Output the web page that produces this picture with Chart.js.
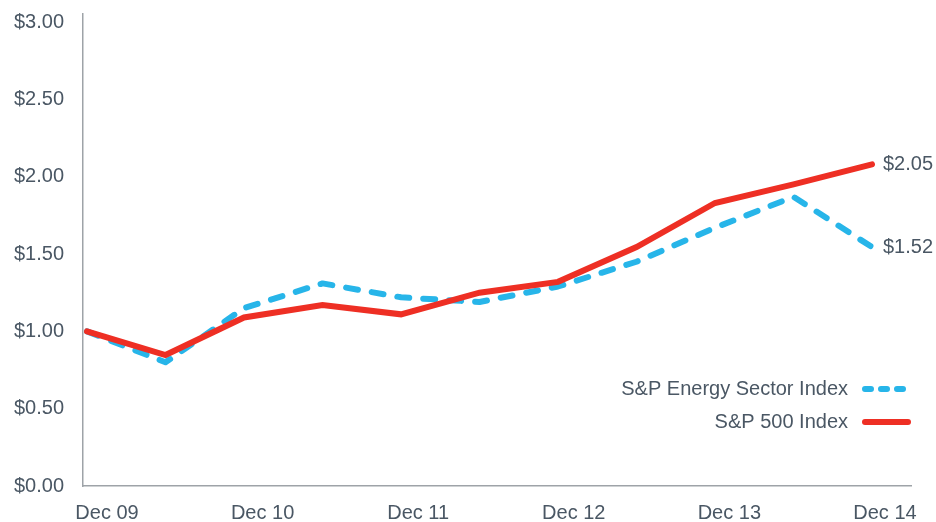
<!DOCTYPE html>
<html>
<head>
<meta charset="utf-8">
<script src="https://cdn.jsdelivr.net/npm/chart.js@4"></script>
<style>
  html, body { margin: 0; padding: 0; background: #fff; }
  #wrap { width: 936px; height: 522px; position: relative; }
</style>
</head>
<body>
<div id="wrap"><canvas id="chartGrowth"></canvas></div>
<script>
// semi-annual periods, Dec 09 .. Dec 14
const periods = ["Dec 09", "Jun 10", "Dec 10", "Jun 11", "Dec 11", "Jun 12",
                 "Dec 12", "Jun 13", "Dec 13", "Jun 14", "Dec 14"];
const energyValues = [1.00, 0.80, 1.15, 1.31, 1.22, 1.19, 1.29, 1.45, 1.67, 1.87, 1.545];
const sp500Values  = [1.00, 0.847, 1.09, 1.17, 1.11, 1.25, 1.32, 1.545, 1.83, 1.95, 2.08];
const yearLabels = ["Dec 09", "Dec 10", "Dec 11", "Dec 12", "Dec 13", "Dec 14"];
const yTicks = [0, 0.5, 1, 1.5, 2, 2.5, 3];
const energyEndLabel = "$1.52";
const sp500EndLabel = "$2.05";

const TEXT = "#4a5764";
const AXIS = "#9ea3a8";
const FONT = { family: "'Liberation Sans', Arial, sans-serif", size: 20 };

const toXY = (vals) => vals.map((v, i) => ({ x: i, y: v }));

// end-of-line value labels + legend drawn inside the plot
const annotatePlugin = {
  id: "annotate",
  afterDatasetsDraw(chart) {
    const { ctx, chartArea } = chart;
    ctx.save();
    ctx.font = `${FONT.size}px ${FONT.family}`;
    ctx.fillStyle = TEXT;
    ctx.textBaseline = "middle";

    // end labels
    chart.data.datasets.forEach((ds, i) => {
      const pts = chart.getDatasetMeta(i).data;
      const last = pts[pts.length - 1];
      ctx.textAlign = "left";
      ctx.fillText(ds.endLabel, last.x + 11, last.y);
    });

    // legend (energy first, then S&P 500)
    const rows = [chart.data.datasets[1], chart.data.datasets[0]];
    const xEnd = chartArea.right - 3;
    const xStart = chartArea.right - 46;
    rows.forEach((ds, r) => {
      const y = chartArea.bottom - 97 + r * 33;
      ctx.textAlign = "right";
      ctx.fillStyle = TEXT;
      ctx.fillText(ds.label, chartArea.right - 63, y);
      ctx.beginPath();
      ctx.lineWidth = 6;
      ctx.lineCap = "round";
      ctx.strokeStyle = ds.borderColor;
      ctx.setLineDash(ds.borderDash ? [6, 10] : []);
      ctx.moveTo(xStart, y);
      ctx.lineTo(xEnd, y);
      ctx.stroke();
    });
    ctx.restore();
  }
};

new Chart(document.getElementById("chartGrowth"), {
  type: "line",
  data: {
    datasets: [
      {
        label: "S&P 500 Index",
        data: toXY(sp500Values),
        borderColor: "#ee2f24",
        borderWidth: 6,
        borderCapStyle: "round",
        borderJoinStyle: "miter",
        pointRadius: 0,
        tension: 0,
        order: 0,
        endLabel: sp500EndLabel
      },
      {
        label: "S&P Energy Sector Index",
        data: toXY(energyValues),
        borderColor: "#27b5e9",
        borderWidth: 6,
        borderDash: [12, 14],
        borderCapStyle: "round",
        borderJoinStyle: "round",
        pointRadius: 0,
        tension: 0,
        order: 1,
        endLabel: energyEndLabel
      }
    ]
  },
  options: {
    responsive: true,
    maintainAspectRatio: false,
    animation: false,
    layout: { padding: { top: 14, right: 25, left: 0, bottom: 0 } },
    plugins: {
      legend: { display: false },
      tooltip: { enabled: false }
    },
    scales: {
      x: {
        type: "linear",
        min: -0.051,
        max: 10.497,
        grid: { display: false, drawTicks: false },
        border: { display: true, color: AXIS, width: 1.5 },
        afterBuildTicks: (scale) => {
          // year labels sit a bit right of the data points, evenly spread
          scale.ticks = yearLabels.map((_, k) => ({ value: 0.255 + k * 1.982 }));
        },
        afterFit: (scale) => {
          scale.height = 36;
          scale.paddingLeft = 0;
          scale.paddingRight = 0;
        },
        ticks: {
          autoSkip: false,
          maxRotation: 0,
          padding: 15,
          color: TEXT,
          font: FONT,
          callback: (v, idx) => yearLabels[idx]
        }
      },
      y: {
        min: 0,
        max: 3.052,
        grid: { display: false, drawTicks: false },
        border: { display: true, color: AXIS, width: 1.5 },
        afterBuildTicks: (scale) => {
          scale.ticks = yTicks.map((v) => ({ value: v }));
        },
        afterFit: (scale) => {
          scale.width = 83;
          scale.paddingTop = 0;
          scale.paddingBottom = 0;
        },
        ticks: {
          padding: 19,
          color: TEXT,
          font: FONT,
          callback: (v) => "$" + Number(v).toFixed(2)
        }
      }
    }
  },
  plugins: [annotatePlugin]
});
</script>
</body>
</html>
